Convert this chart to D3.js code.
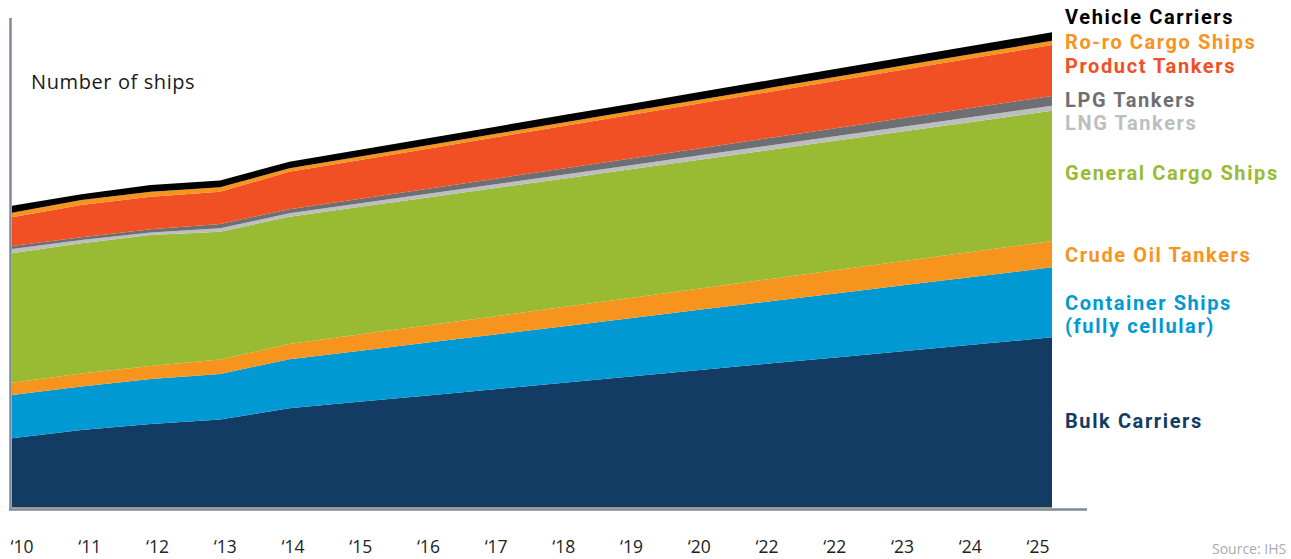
<!DOCTYPE HTML>
<html>
<head>
<meta charset="utf-8">
<title>Number of ships</title>
<script src="https://d3js.org/d3.v7.min.js"></script>
<style>
body { margin: 0; background: #fff; }
svg text { font-family: "Open Sans", sans-serif; }
.legend text { font-family: Roboto, sans-serif; font-weight: bold; font-size: 20px; letter-spacing: 1.6px; }
</style>
</head>
<body>
<svg width="1291" height="559"></svg>
<script>
// years and tick labels (the source really prints '22 twice)
var years = [2010, 2011, 2012, 2013, 2014, 2015, 2016, 2017, 2018, 2019, 2020, 2021, 2022, 2023, 2024, 2025];
var tickLabels = ["‘10", "‘11", "‘12", "‘13", "‘14", "‘15", "‘16", "‘17", "‘18", "‘19", "‘20", "‘22", "‘22", "‘23", "‘24", "‘25"];

// number of ships per fleet type
var bulkCarriers   = [6870, 7700, 8300, 8750, 9870, 10520, 11160, 11810, 12450, 13100, 13740, 14390, 15030, 15680, 16320, 16970];
var containerShips = [4330, 4350, 4500, 4550, 4900, 5090, 5280, 5470, 5660, 5850, 6050, 6240, 6430, 6620, 6810, 7000];
var crudeTankers   = [1230, 1300, 1300, 1450, 1530, 1630, 1730, 1830, 1930, 2030, 2130, 2230, 2330, 2430, 2530, 2630];
var generalCargo   = [12940, 13020, 13100, 12780, 12730, 12760, 12780, 12810, 12840, 12870, 12890, 12920, 12950, 12980, 13000, 13030];
var lngTankers     = [430, 330, 250, 340, 340, 350, 370, 380, 400, 410, 430, 440, 460, 470, 490, 500];
var lpgTankers     = [300, 270, 320, 430, 400, 450, 500, 560, 610, 660, 710, 760, 810, 870, 920, 970];
var productTankers = [2870, 3230, 3260, 3230, 3760, 3880, 4000, 4130, 4250, 4370, 4490, 4610, 4740, 4860, 4980, 5100];
var roroShips      = [460, 500, 500, 440, 340, 350, 360, 360, 370, 380, 390, 400, 400, 410, 420, 430];
var vehicleCarriers= [700, 570, 670, 680, 660, 680, 690, 710, 730, 740, 760, 780, 790, 810, 820, 840];

var series = [
	{key: "bulk", values: bulkCarriers, color: "#123c64"},
	{key: "container", values: containerShips, color: "#0099d3"},
	{key: "crude", values: crudeTankers, color: "#f7941e"},
	{key: "general", values: generalCargo, color: "#98bb33"},
	{key: "lng", values: lngTankers, color: "#bdbec0"},
	{key: "lpg", values: lpgTankers, color: "#6e6f72"},
	{key: "product", values: productTankers, color: "#f05024"},
	{key: "roro", values: roroShips, color: "#f7941e"},
	{key: "vehicle", values: vehicleCarriers, color: "#000000"}
];

var labels = [
	{text: ["Vehicle Carriers"], color: "#000000", y: 24},
	{text: ["Ro-ro Cargo Ships"], color: "#f7941e", y: 49},
	{text: ["Product Tankers"], color: "#f05024", y: 73},
	{text: ["LPG Tankers"], color: "#6e6f72", y: 107},
	{text: ["LNG Tankers"], color: "#bdbec0", y: 130},
	{text: ["General Cargo Ships"], color: "#98bb33", y: 180},
	{text: ["Crude Oil Tankers"], color: "#f7941e", y: 262},
	{text: ["Container Ships", "(fully cellular)"], color: "#0099d3", y: 310},
	{text: ["Bulk Carriers"], color: "#123c64", y: 428}
];

var table = years.map(function(yr, i) {
	var row = {year: yr};
	series.forEach(function(s) { row[s.key] = s.values[i]; });
	return row;
});

var svg = d3.select("svg");

var x = d3.scaleLinear().domain([2010, 2025]).range([12, 1052]),
	y = d3.scaleLinear().domain([0, 48900]).range([507, 18]);

var xLabels = d3.scalePoint().domain(d3.range(tickLabels.length)).range([22, 1038]);

var stack = d3.stack().keys(series.map(function(s) { return s.key; }));
var layers = stack(table);

var area = d3.area()
	.x(function(d) { return x(d.data.year); })
	.y0(function(d) { return y(d[0]); })
	.y1(function(d) { return y(d[1]); });

svg.append("g").selectAll("path")
	.data(layers)
	.enter().append("path")
	.attr("fill", function(d, i) { return series[i].color; })
	.attr("d", area);

// thin tan edge under the areas
svg.append("line")
	.attr("x1", x(2010)).attr("x2", x(2025))
	.attr("y1", y(0) + 0.5).attr("y2", y(0) + 0.5)
	.attr("stroke", "#b58d5f").attr("stroke-width", 1);

// axis lines
svg.append("line")
	.attr("x1", 10.5).attr("x2", 10.5)
	.attr("y1", 18).attr("y2", 510)
	.attr("stroke", "#7f8b99").attr("stroke-width", 2.5);

svg.append("line")
	.attr("x1", 9).attr("x2", 1087)
	.attr("y1", 509.5).attr("y2", 509.5)
	.attr("stroke", "#7f8b99").attr("stroke-width", 2.5);

svg.append("g").selectAll("text")
	.data(tickLabels)
	.enter().append("text")
	.attr("x", function(d, i) { return xLabels(i); })
	.attr("y", 553)
	.attr("text-anchor", "middle")
	.attr("fill", "#222")
	.style("font-size", "17.5px")
	.text(function(d) { return d; });

svg.append("text")
	.attr("x", 31)
	.attr("y", 89)
	.attr("fill", "#1a1a1a")
	.style("font-size", "20px")
	.style("letter-spacing", "0.6px")
	.text("Number of ships");

var legend = svg.append("g").attr("class", "legend");
labels.forEach(function(l) {
	var t = legend.append("text")
		.attr("x", 1065)
		.attr("y", l.y)
		.attr("fill", l.color);
	l.text.forEach(function(line, j) {
		t.append("tspan").attr("x", 1065).attr("dy", j ? 23 : 0).text(line);
	});
});

svg.append("text")
	.attr("x", 1212)
	.attr("y", 554)
	.attr("fill", "#a7abaf")
	.style("font-size", "14px")
	.text("Source: IHS");
</script>
</body>
</html>
